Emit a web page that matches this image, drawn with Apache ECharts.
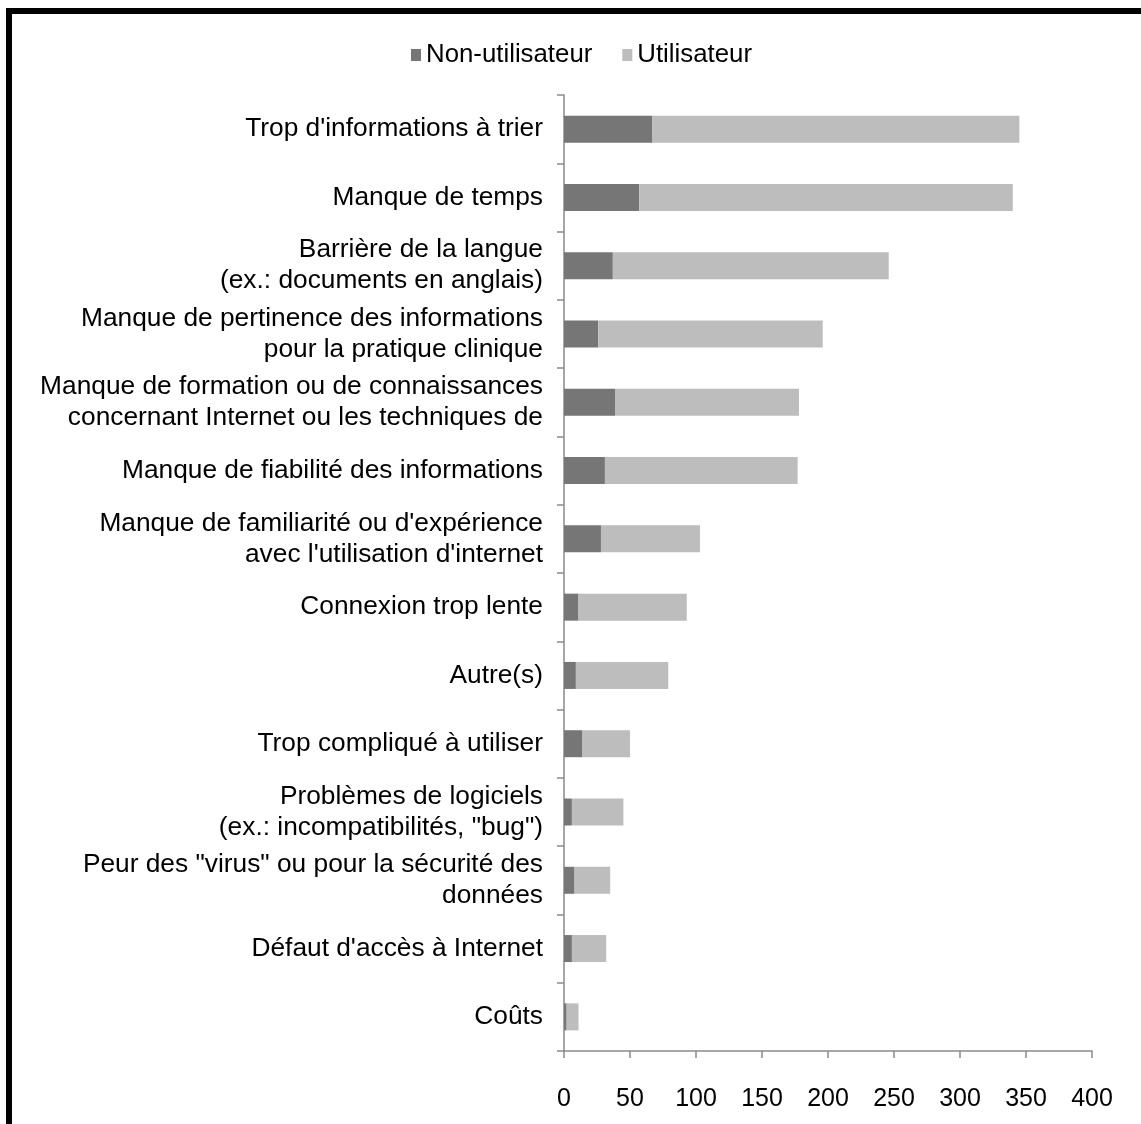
<!DOCTYPE html>
<html>
<head>
<meta charset="utf-8">
<script src="https://cdn.jsdelivr.net/npm/echarts@6/dist/echarts.min.js"></script>
<style>
  html, body { margin: 0; padding: 0; background: #fff; }
  #frame {
    position: absolute; left: 6px; top: 8px; width: 1135px; height: 1116px;
    border-left: 6px solid #000; border-top: 6px solid #000; box-sizing: border-box;
  }
  #chart { position: absolute; left: 0; top: 0; width: 1141px; height: 1124px; }
</style>
</head>
<body>
<div id="frame"></div>
<div id="chart"></div>
<script>
// Obstacles cited for Internet use, top to bottom
const categories = [
  "Trop d'informations à trier",
  "Manque de temps",
  "Barrière de la langue\n(ex.: documents en anglais)",
  "Manque de pertinence des informations\npour la pratique clinique",
  "Manque de formation ou de connaissances\nconcernant Internet ou les techniques de",
  "Manque de fiabilité des informations",
  "Manque de familiarité ou d'expérience\navec l'utilisation d'internet",
  "Connexion trop lente",
  "Autre(s)",
  "Trop compliqué à utiliser",
  "Problèmes de logiciels\n(ex.: incompatibilités, \"bug\")",
  "Peur des \"virus\" ou pour la sécurité des\ndonnées",
  "Défaut d'accès à Internet",
  "Coûts"
];
const nonUtilisateur = [67, 57, 37, 26, 39, 31, 28, 11, 9, 14, 6, 8, 6, 2];
const utilisateur    = [278, 283, 209, 170, 139, 146, 75, 82, 70, 36, 39, 27, 26, 9];
const xTicks = { min: 0, max: 400, interval: 50 };

const FONT = "'Liberation Sans', Arial, Helvetica, sans-serif";
const chart = echarts.init(document.getElementById('chart'), null, { renderer: 'canvas' });
chart.setOption({
  animation: false,
  backgroundColor: 'transparent',
  textStyle: { fontFamily: FONT },
  legend: {
    top: 37,
    left: 406,
    itemWidth: 10,
    itemHeight: 12,
    itemGap: 30,
    icon: 'rect',
    textStyle: { fontFamily: FONT, fontSize: 25.8, color: '#000' },
    data: ['Non-utilisateur', 'Utilisateur']
  },
  grid: { left: 564, right: 49, top: 95, bottom: 73, containLabel: false },
  xAxis: {
    type: 'value',
    min: xTicks.min, max: xTicks.max, interval: xTicks.interval,
    axisLine: { show: true, lineStyle: { color: '#8a8a8a', width: 1.5 } },
    axisTick: { show: true, length: 7, lineStyle: { color: '#8a8a8a', width: 1.5 } },
    splitLine: { show: false },
    axisLabel: { fontFamily: FONT, fontSize: 25, color: '#000', margin: 36 }
  },
  yAxis: {
    type: 'category',
    inverse: true,
    data: categories,
    axisLine: { show: true, lineStyle: { color: '#8a8a8a', width: 1.5 } },
    axisTick: { show: true, length: 7, lineStyle: { color: '#8a8a8a', width: 1.5 } },
    axisLabel: {
      fontFamily: FONT, fontSize: 26.3, color: '#000', margin: 21,
      lineHeight: 31, align: 'right'
    }
  },
  series: [
    {
      name: 'Non-utilisateur', type: 'bar', stack: 'total',
      data: nonUtilisateur, barWidth: 27,
      itemStyle: { color: '#767676' }
    },
    {
      name: 'Utilisateur', type: 'bar', stack: 'total',
      data: utilisateur, barWidth: 27,
      itemStyle: { color: '#bdbdbd' }
    }
  ]
});
</script>
</body>
</html>
